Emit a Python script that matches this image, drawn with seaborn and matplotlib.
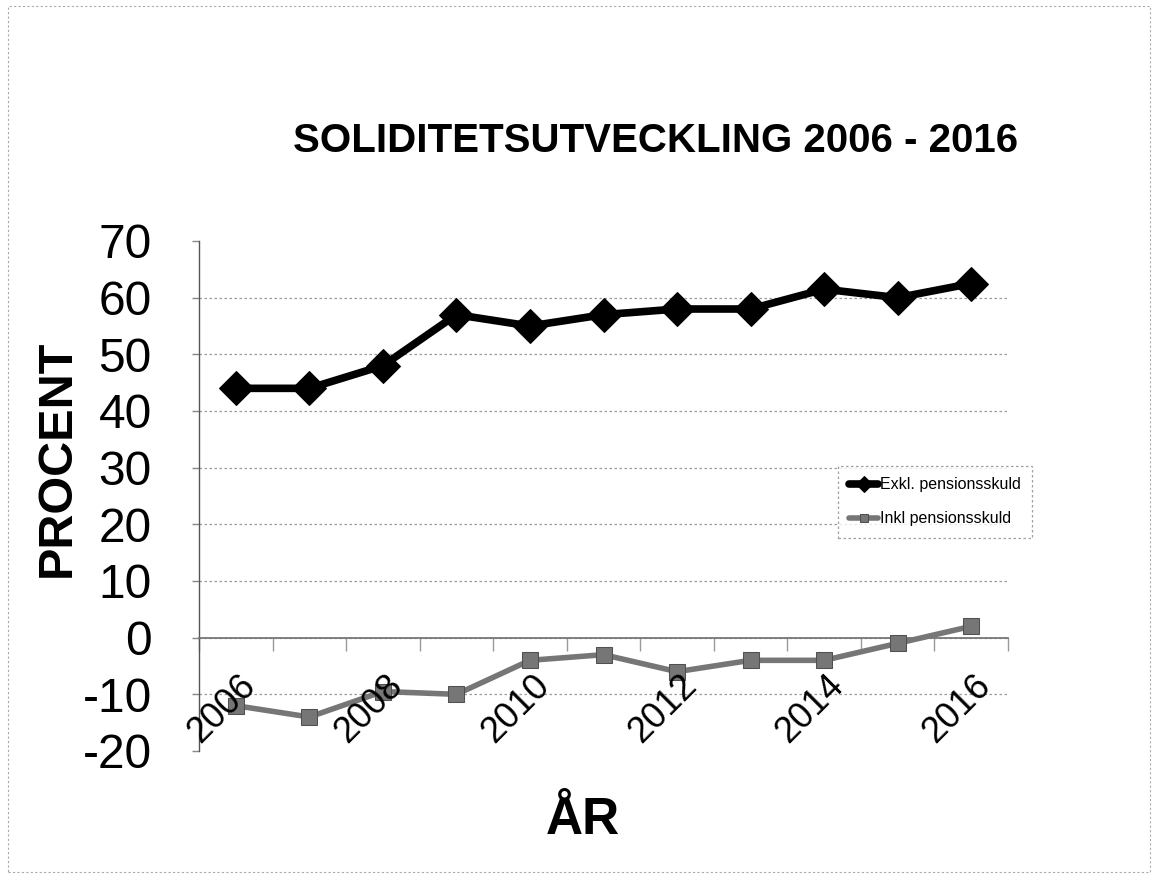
import numpy as np
import pandas as pd
import seaborn as sns
import matplotlib.pyplot as plt
from matplotlib.patches import Rectangle

years = ["2006", "2007", "2008", "2009", "2010", "2011", "2012", "2013", "2014", "2015", "2016"]
exkl = [44, 44, 48, 57, 55, 57, 58, 58, 61.5, 60, 62.5]
inkl = [-12, -14, -9.5, -10, -4, -3, -6, -4, -4, -1, 2]
shown_years = ["2006", "2008", "2010", "2012", "2014", "2016"]
yticks = [-20, -10, 0, 10, 20, 30, 40, 50, 60, 70]

sns.set_style("white")
plt.rcParams["font.family"] = ["Liberation Sans", "DejaVu Sans"]
plt.rcParams["text.color"] = "black"
plt.rcParams["ytick.labelcolor"] = "black"

pos = np.arange(len(years))
df = pd.DataFrame({"pos": pos, "exkl": exkl, "inkl": inkl})

fig = plt.figure(figsize=(11.57, 8.76), dpi=100)
ax = fig.add_axes([199 / 1157, 1 - 751 / 876, 809 / 1157, 510 / 876])

sns.lineplot(data=df, x="pos", y="exkl", ax=ax, color="black", linewidth=5.5,
             marker="D", markersize=17, markeredgecolor="black",
             label="Exkl. pensionsskuld", zorder=3)
sns.lineplot(data=df, x="pos", y="inkl", ax=ax, color="#767676", linewidth=4,
             marker="s", markersize=12, markeredgecolor="#505050",
             label="Inkl pensionsskuld", zorder=3)

ax.set_xlim(-0.5, len(years) - 0.5)
ax.set_ylim(-20, 70)
ax.set_yticks(yticks)
ax.set_yticklabels([str(t) for t in yticks], fontsize=34.5, color="black")
ax.tick_params(axis="y", length=5, width=1, color="#888888", pad=29, left=True)

# category boundary ticks on the zero line
ax.set_xticks(np.arange(len(years) + 1) - 0.5)
ax.set_xticklabels([])
ax.tick_params(axis="x", length=9, width=1, color="#999999", direction="out", bottom=True)
ax.spines["bottom"].set_position(("data", 0))
ax.spines["bottom"].set_color("#777777")
ax.spines["bottom"].set_linewidth(1.3)
ax.spines["left"].set_color("#555555")
ax.spines["left"].set_linewidth(1)
ax.spines["top"].set_visible(False)
ax.spines["right"].set_visible(False)

ax.yaxis.grid(True, color="#9a9a9a", linestyle=(0, (2, 2)), linewidth=0.9)
gl = ax.yaxis.get_gridlines()
gl[0].set_visible(False)
gl[-1].set_visible(False)
ax.set_axisbelow(True)
ax.set_xlabel("")
ax.set_ylabel("")

for y in shown_years:
    i = years.index(y)
    ax.text(i + 0.19, -7.6, y, rotation=45, ha="right", va="center",
            rotation_mode="anchor", fontsize=26, color="black", zorder=4)

leg = ax.legend(loc="upper left", bbox_to_anchor=(838 / 1157, 1 - 466 / 876),
                bbox_transform=fig.transFigure, fontsize=11.5, frameon=True,
                fancybox=False, borderaxespad=0, markerscale=0.45,
                handlelength=1.8, handletextpad=0.1, labelspacing=1.2,
                borderpad=0.7)
leg.get_frame().set_edgecolor("#888888")
leg.get_frame().set_linestyle((0, (2, 2)))
leg.get_frame().set_linewidth(0.9)
for t in leg.get_texts():
    t.set_color("black")

fig.text(656 / 1157, 1 - 152 / 876, "SOLIDITETSUTVECKLING 2006 - 2016",
         ha="center", va="baseline", fontsize=29, fontweight="bold")
fig.text(57 / 1157, 1 - 458 / 876, "PROCENT", rotation=90, ha="center",
         va="center", fontsize=35, fontweight="bold")
fig.text(583 / 1157, 1 - 820 / 876, "ÅR", ha="center", va="center",
         fontsize=37, fontweight="bold")

fig.patches.append(Rectangle((8 / 1157, 4 / 876), 1142 / 1157, 866 / 876,
                             transform=fig.transFigure, fill=False,
                             edgecolor="#aaaaaa", linewidth=0.8,
                             linestyle=(0, (2, 2))))

fig.savefig("out.png", dpi=100)
